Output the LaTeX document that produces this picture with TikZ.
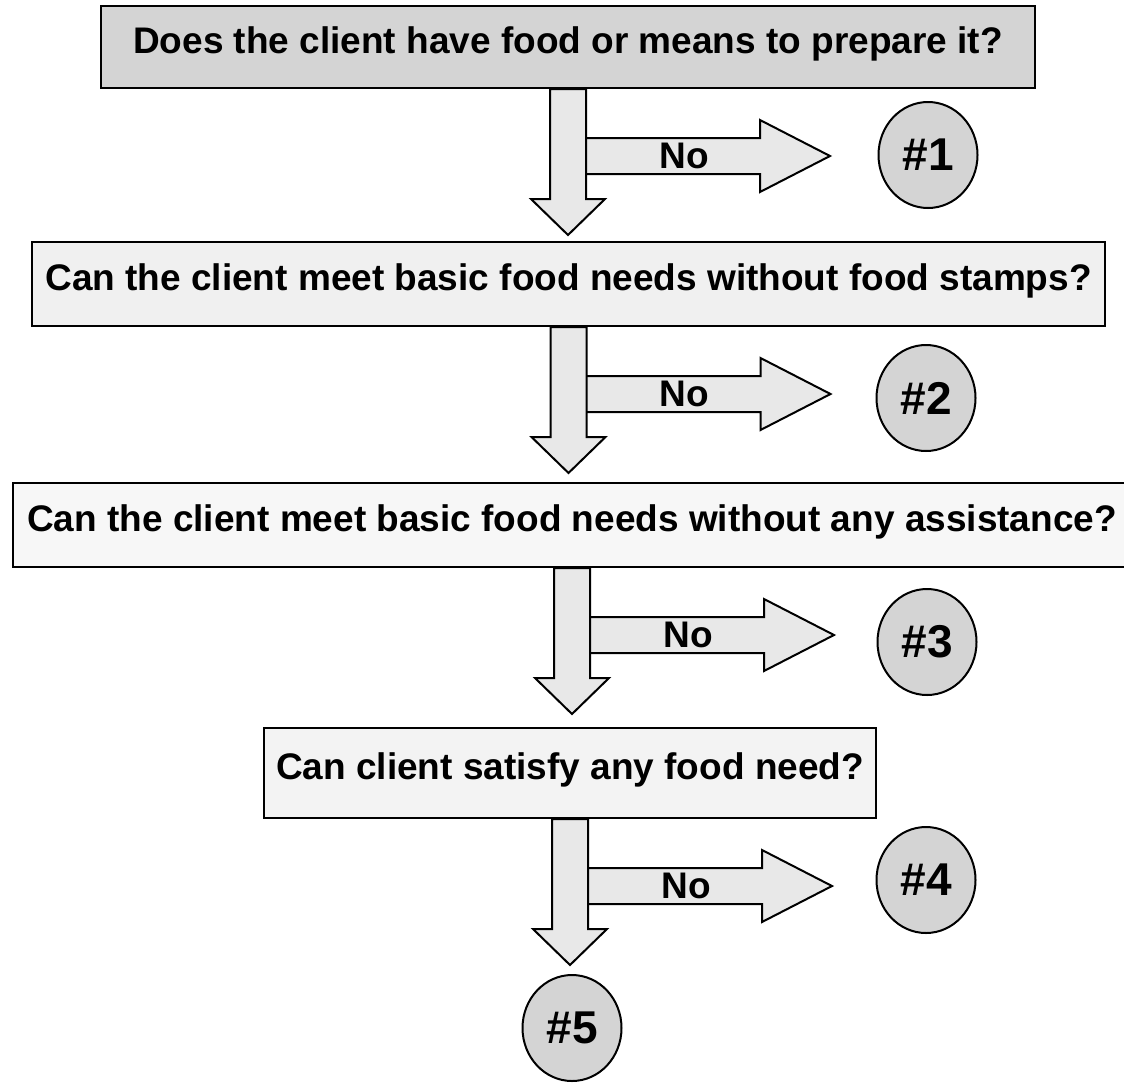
\documentclass[tikz,border=0pt]{standalone}
\usepackage{fontspec}
\setmainfont{Liberation Sans}
\usetikzlibrary{
    positioning,
    calc,
    shapes.geometric
}
\definecolor{boxDark}{RGB}{212, 212, 212}
\definecolor{boxPale}{RGB}{240, 240, 240}
\definecolor{boxPaler}{RGB}{247, 247, 247}
\definecolor{boxMid}{RGB}{243, 243, 243}
\definecolor{arrowFill}{RGB}{232, 232, 232}
\definecolor{outcomeFill}{RGB}{212, 212, 212}

\tikzset{
    question/.style={draw, line width=2pt, inner sep=0pt, text depth=14pt, minimum height=84pt},
    outcome/.style={ellipse, draw, line width=2pt, fill=outcomeFill, inner sep=0pt, minimum width=99pt, minimum height=106pt, font=\bfseries\fontsize{46}{50}\selectfont},
    blockarrow/.style={draw, line width=2pt, fill=arrowFill, line join=miter},
    nolabel/.style={inner sep=0pt}
}

\begin{document}
\begin{tikzpicture}[x=1pt, y=-1pt, font=\bfseries\fontsize{37}{42}\selectfont]
    \useasboundingbox (0,0) rectangle (1124,1082);

    % Questions
    \node[question, fill=boxDark, minimum width=934pt, minimum height=82pt] (q1) at (568,47) {Does the client have food or means to prepare it?};
    \node[question, fill=boxPale, minimum width=1073pt] (q2) at (568.5,284) {Can the client meet basic food needs without food stamps?};
    \node[question, fill=boxPaler, minimum width=1118pt] (q3) at (572,525) {Can the client meet basic food needs without any assistance?};
    \node[question, fill=boxMid, minimum width=612pt, minimum height=90pt] (q4) at (570,773) {Can client satisfy any food need?};

    % Outcomes
    \node[outcome] (r1) at (928,155) {\#1};
    \node[outcome] (r2) at (926,398) {\#2};
    \node[outcome] (r3) at (927,642) {\#3};
    \node[outcome] (r4) at (926,880) {\#4};
    \node[outcome] (r5) at (572,1028) {\#5};

    % Level 1
    \draw[blockarrow] ($(q1.south)+(18,49)$) -- ++(174,0) -- ++(0,-18) -- ++(70,36) -- ++(-70,36) -- ++(0,-18) -- ++(-174,0);
    \draw[blockarrow] ($(q1.south)+(-18,0)$) -- ++(0,110) -- ++(-19,0) -- ++(37,36) -- ++(37,-36) -- ++(-19,0) -- ($(q1.south)+(18,0)$) -- cycle;
    \node[nolabel] (n1) at ($(q1.south)+(116,67)$) {No};

    % Level 2
    \draw[blockarrow] ($(q2.south)+(18,49)$) -- ++(174,0) -- ++(0,-18) -- ++(70,36) -- ++(-70,36) -- ++(0,-18) -- ++(-174,0);
    \draw[blockarrow] ($(q2.south)+(-18,0)$) -- ++(0,110) -- ++(-19,0) -- ++(37,36) -- ++(37,-36) -- ++(-19,0) -- ($(q2.south)+(18,0)$) -- cycle;
    \node[nolabel] (n2) at ($(q2.south)+(116,67)$) {No};

    % Level 3
    \draw[blockarrow] ($(q3.south)+(18,49)$) -- ++(174,0) -- ++(0,-18) -- ++(70,36) -- ++(-70,36) -- ++(0,-18) -- ++(-174,0);
    \draw[blockarrow] ($(q3.south)+(-18,0)$) -- ++(0,110) -- ++(-19,0) -- ++(37,36) -- ++(37,-36) -- ++(-19,0) -- ($(q3.south)+(18,0)$) -- cycle;
    \node[nolabel] (n3) at ($(q3.south)+(116,67)$) {No};

    % Level 4
    \draw[blockarrow] ($(q4.south)+(18,49)$) -- ++(174,0) -- ++(0,-18) -- ++(70,36) -- ++(-70,36) -- ++(0,-18) -- ++(-174,0);
    \draw[blockarrow] ($(q4.south)+(-18,0)$) -- ++(0,110) -- ++(-19,0) -- ++(37,36) -- ++(37,-36) -- ++(-19,0) -- ($(q4.south)+(18,0)$) -- cycle;
    \node[nolabel] (n4) at ($(q4.south)+(116,67)$) {No};
\end{tikzpicture}
\end{document}
